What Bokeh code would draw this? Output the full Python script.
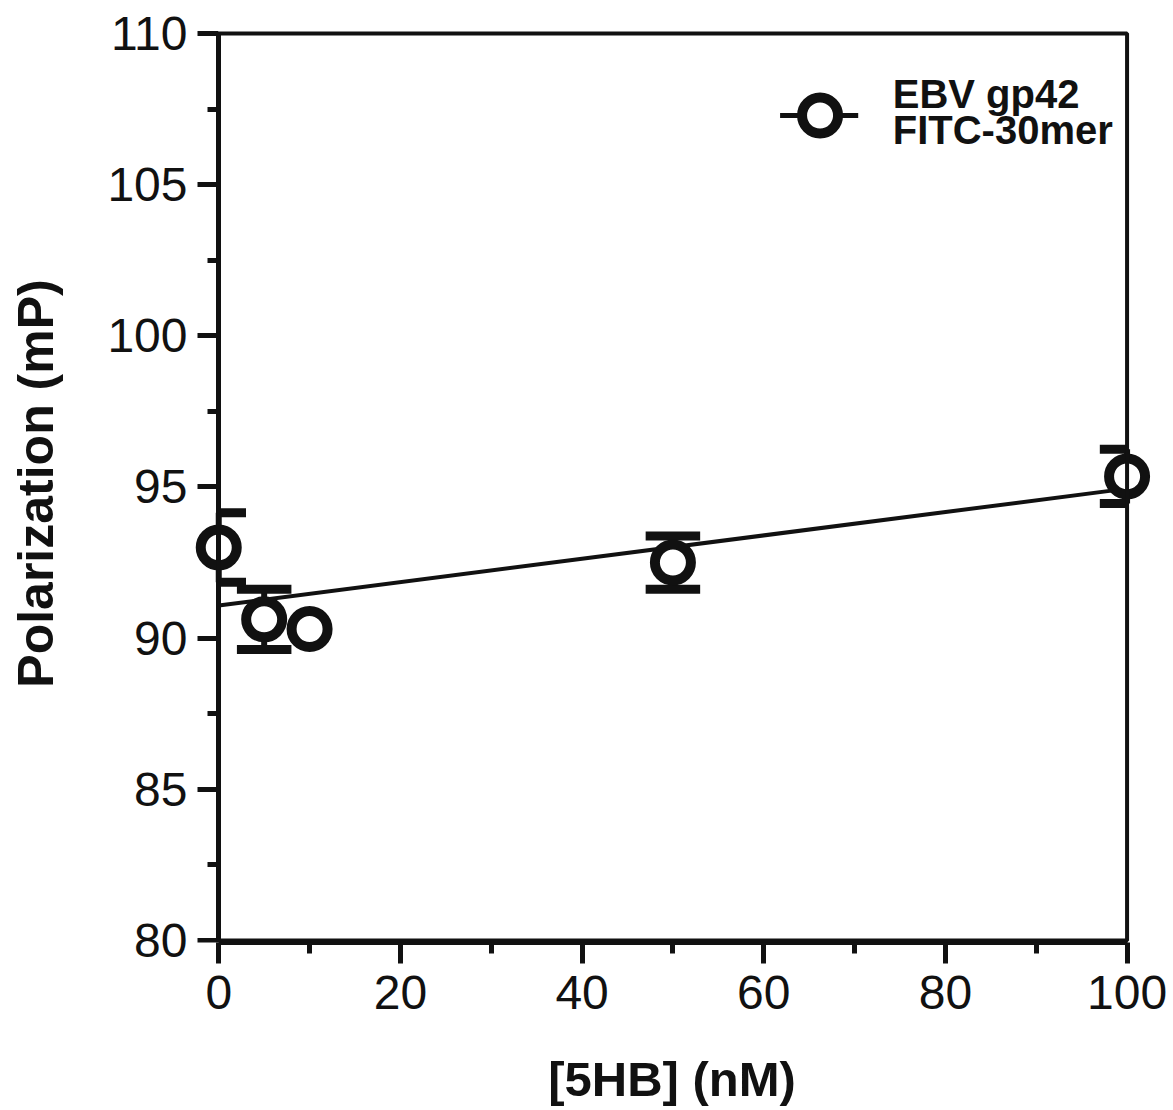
import numpy as np
from bokeh.plotting import figure
from bokeh.models import FixedTicker, BoxAnnotation, Label, Range1d, LinearAxis
from bokeh.embed import file_html
from bokeh.resources import INLINE

# ---- data ----
conc = [0, 5, 10, 50, 100]                          # [5HB] (nM)
polarization = [93.0, 90.62, 90.3, 92.5, 95.35]     # mP
sem = [1.15, 1.0, 0.0, 0.88, 0.9]                   # bar at 10 nM hidden by symbol

x_ticks = [0, 20, 40, 60, 80, 100]
x_minor = [10, 30, 50, 70, 90]
y_ticks = [80, 85, 90, 95, 100, 105, 110]
y_minor = [82.5, 87.5, 92.5, 97.5, 102.5, 107.5]

x_title = "[5HB] (nM)"
y_title = "Polarization (mP)"
legend_lines = ["EBV gp42", "FITC-30mer"]

FONT = "Liberation Sans"
INK = "#111111"

p = figure(width=1173, height=1110,
           x_range=Range1d(-3, 102.8), y_range=Range1d(79.93, 110.3),
           output_backend="svg", toolbar_location=None, title=None,
           min_border_left=191, min_border_right=21,
           min_border_top=24, min_border_bottom=168)
p.xgrid.visible = False
p.ygrid.visible = False
p.outline_line_color = None
p.background_fill_color = "white"
p.border_fill_color = "white"

# ---- linear fit ----
coef = np.polyfit(conc, polarization, 1)
fit_x = np.array([0.0, 100.0])
fit_y = np.polyval(coef, fit_x)
p.line(fit_x, fit_y, line_color=INK, line_width=4)

# ---- error bars (only where visible) ----
x = np.array(conc, dtype=float)
y = np.array(polarization)
e = np.array(sem)
m = e > 0
xs, ys, es = x[m], y[m], e[m]
cap_half = 3.0
cap_l = np.clip(xs - cap_half, 0, 100)
cap_r = np.clip(xs + cap_half, 0, 100)
p.segment(x0=xs, y0=ys - es, x1=xs, y1=ys + es, line_color=INK, line_width=6)
p.segment(x0=cap_l, y0=ys + es, x1=cap_r, y1=ys + es, line_color=INK, line_width=9)
p.segment(x0=cap_l, y0=ys - es, x1=cap_r, y1=ys - es, line_color=INK, line_width=9)

# ---- points ----
p.scatter(x, y, marker="circle", size=36, line_width=10,
          line_color=INK, fill_color="white")

# ---- frame (top / right) ----
p.add_layout(BoxAnnotation(left=0, right=100, bottom=80, top=110,
                           fill_alpha=0, fill_color=None,
                           line_color=INK, line_alpha=1.0, line_width=4))

# ---- x axis ----
xax = p.xaxis[0]
xax.ticker = FixedTicker(ticks=x_ticks, minor_ticks=x_minor)
xax.bounds = (0, 100)
xax.axis_line_width = 5
xax.axis_line_color = INK
xax.major_tick_line_width = 5
xax.minor_tick_line_width = 5
xax.major_tick_line_color = INK
xax.minor_tick_line_color = INK
xax.major_tick_out = 21
xax.major_tick_in = 0
xax.minor_tick_out = 11
xax.minor_tick_in = 0
xax.major_label_text_font = FONT
xax.major_label_text_font_size = "48px"
xax.major_label_text_color = INK
xax.major_label_standoff = 12
xax.axis_label = x_title
xax.axis_label_text_font = FONT
xax.axis_label_text_font_size = "49px"
xax.axis_label_text_font_style = "bold"
xax.axis_label_text_color = INK
xax.axis_label_standoff = 40

# ---- y axis: labels + title at the frame edge ----
yax = p.left[0]
yax.ticker = FixedTicker(ticks=y_ticks, minor_ticks=y_minor)
yax.bounds = (80, 110)
yax.axis_line_color = None
yax.major_tick_line_color = None
yax.minor_tick_line_color = None
yax.major_tick_out = 0
yax.major_tick_in = 0
yax.minor_tick_out = 0
yax.minor_tick_in = 0
yax.major_label_text_font = FONT
yax.major_label_text_font_size = "48px"
yax.major_label_text_color = INK
yax.major_label_standoff = 4
yax.axis_label = y_title
yax.axis_label_text_font = FONT
yax.axis_label_text_font_size = "50px"
yax.axis_label_text_font_style = "bold"
yax.axis_label_text_color = INK
yax.axis_label_standoff = 40

# ---- y axis: line + ticks at x = 0 ----
yline = LinearAxis(fixed_location=0,
                   ticker=FixedTicker(ticks=y_ticks, minor_ticks=y_minor),
                   bounds=(80, 110),
                   major_label_overrides={t: "" for t in y_ticks},
                   major_label_standoff=0,
                   axis_line_width=5, axis_line_color=INK,
                   major_tick_line_width=5, minor_tick_line_width=5,
                   major_tick_line_color=INK, minor_tick_line_color=INK,
                   major_tick_in=21, major_tick_out=0,
                   minor_tick_in=11, minor_tick_out=0)
p.add_layout(yline, "right")

# ---- legend ----
leg_y = 107.29
p.line([61.8, 70.4], [leg_y, leg_y], line_color=INK, line_width=5)
p.scatter([66.2], [leg_y], marker="circle", size=36, line_width=10,
          line_color=INK, fill_color="white")
for txt, ty in zip(legend_lines, [108.0, 106.82]):
    p.add_layout(Label(x=74.2, y=ty, text=txt, text_align="left",
                       text_baseline="alphabetic", text_font=FONT,
                       text_font_size="40px", text_font_style="bold",
                       text_color=INK))

open("out.html", "w").write(file_html(p, INLINE))
